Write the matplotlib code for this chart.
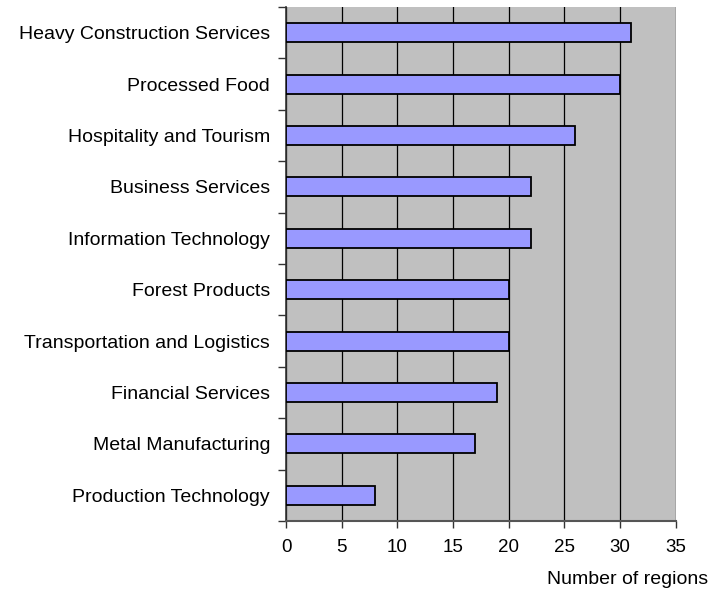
import matplotlib
matplotlib.use("Agg")
import matplotlib.pyplot as plt
import numpy as np

categories = ["Heavy Construction Services", "Processed Food", "Hospitality and Tourism",
              "Business Services", "Information Technology", "Forest Products",
              "Transportation and Logistics", "Financial Services", "Metal Manufacturing",
              "Production Technology"]
values = [31, 30, 26, 22, 22, 20, 20, 19, 17, 8]
xticks = [0, 5, 10, 15, 20, 25, 30, 35]

plt.rcParams['font.family'] = ['Liberation Sans', 'DejaVu Sans']
fs = 14

fig = plt.figure(figsize=(7.1, 5.92), dpi=100)
ax = fig.add_axes([286/710, 1-521/592, (675.5-286)/710, (521-7)/592])
ax.set_facecolor('#c0c0c0')

n = len(categories)
y = np.arange(n)[::-1]
ax.barh(y, values, height=0.37, color='#9999ff', edgecolor='black', linewidth=1.3, zorder=3)
ax.set_ylim(-0.5, n-0.5)
ax.set_xlim(0, 35)
ax.set_xticks(xticks)
ax.set_xticklabels([str(t) for t in xticks], fontsize=13.5)
ax.xaxis.grid(True, color='black', linewidth=0.9, zorder=1)
ax.set_axisbelow(True)
ax.set_yticks(y)
ax.set_yticklabels(categories, fontsize=fs)
ax.set_yticks(np.arange(-0.5, n, 1.0), minor=True)
ax.tick_params(axis='y', which='major', length=0, pad=11.5)
ax.tick_params(axis='y', which='minor', length=6, width=1, color='#333333', direction='out')
ax.tick_params(axis='x', which='major', length=5, width=1, color='#333333', direction='out', pad=8)
for s in ['top', 'right']:
    ax.spines[s].set_visible(False)
ax.spines['left'].set_color('#333333')
ax.spines['left'].set_linewidth(1.2)
ax.spines['bottom'].set_color('#555555')
ax.spines['bottom'].set_linewidth(1.5)

fig.text(708/710, 1-579/592, "Number of regions", ha='right', va='center', fontsize=fs)

fig.savefig("out.png", dpi=100)
